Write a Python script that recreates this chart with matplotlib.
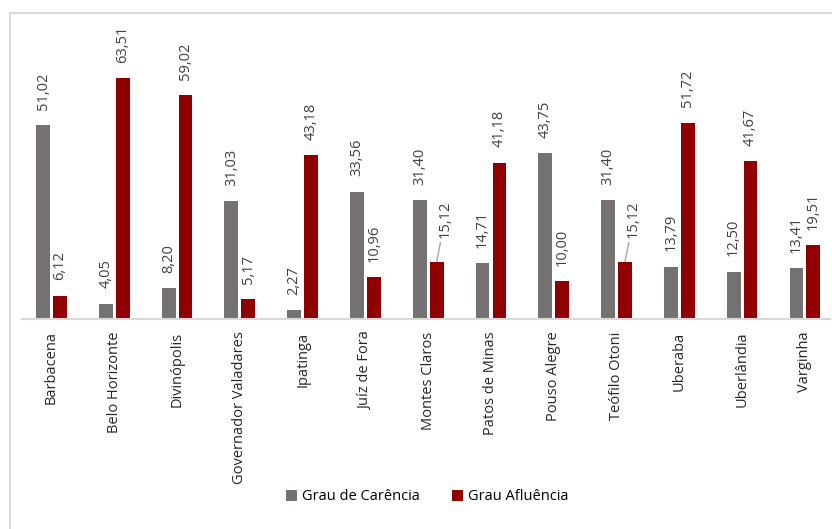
import matplotlib.pyplot as plt
import numpy as np
from matplotlib.patches import Rectangle

plt.rcParams['font.family'] = ['Open Sans', 'DejaVu Sans']

# Data
cities = ['Barbacena', 'Belo Horizonte', 'Divinópolis', 'Governador Valadares',
          'Ipatinga', 'Juíz de Fora', 'Montes Claros', 'Patos de Minas',
          'Pouso Alegre', 'Teófilo Otoni', 'Uberaba', 'Uberlândia', 'Varginha']
carencia = [51.02, 4.05, 8.20, 31.03, 2.27, 33.56, 31.40, 14.71, 43.75, 31.40, 13.79, 12.50, 13.41]
afluencia = [6.12, 63.51, 59.02, 5.17, 43.18, 10.96, 15.12, 41.18, 10.00, 15.12, 51.72, 41.67, 19.51]

grey = '#767171'
red = '#900000'

fig = plt.figure(figsize=(8.32, 5.29), dpi=100)
W, H = 832, 529

# light outer frame (cropped on right/bottom)
fig.patches.append(Rectangle((10 / W, -0.1), 1.2, (H - 13) / H + 0.1,
                             transform=fig.transFigure, fill=False,
                             edgecolor='#d9d9d9', linewidth=1.5))

ax = fig.add_axes([22 / W, (H - 319) / H, (830 - 22) / W, 265.7 / H])

x = np.arange(len(cities))
w = 0.22
off = 0.135
b1 = ax.bar(x - off, carencia, w, color=grey, label='Grau de Carência')
b2 = ax.bar(x + off, afluencia, w, color=red, label='Grau Afluência')

ax.set_xlim(-0.47, 12.4)
ax.set_ylim(0, 70)


def fmt(v):
    return f'{v:.2f}'.replace('.', ',')


for xi, v in zip(x - off, carencia):
    ax.annotate(fmt(v), (xi, v), xytext=(0, 11), textcoords='offset points',
                rotation=90, ha='center', va='bottom', fontsize=10.5,
                color='#404040', annotation_clip=False)

for i, (xi, v) in enumerate(zip(x + off, afluencia)):
    if cities[i] in ('Montes Claros', 'Teófilo Otoni'):
        ax.annotate(fmt(v), (xi, v), xytext=(6, 17), textcoords='offset points',
                    rotation=90, ha='center', va='bottom', fontsize=10.5,
                    color='#404040', annotation_clip=False,
                    arrowprops=dict(arrowstyle='-', color='#a6a6a6', lw=1,
                                    shrinkA=1, shrinkB=0))
    else:
        ax.annotate(fmt(v), (xi, v), xytext=(0, 11), textcoords='offset points',
                    rotation=90, ha='center', va='bottom', fontsize=10.5,
                    color='#404040', annotation_clip=False)

for s in ['top', 'right', 'left']:
    ax.spines[s].set_visible(False)
ax.spines['bottom'].set_color('#d9d9d9')
ax.spines['bottom'].set_linewidth(1.5)
ax.set_yticks([])
ax.set_xticks(x)
ax.set_xticklabels(cities, rotation=90, fontsize=10.5, color='#262626', va='top')
ax.tick_params(axis='x', length=0, pad=9)

fig.legend(handles=[b1, b2], loc='center', bbox_to_anchor=(427 / W, 1 - 497 / H),
           ncol=2, frameon=False, fontsize=10.5, handlelength=0.8, handleheight=0.8,
           handletextpad=0.3, columnspacing=2.2)

fig.savefig('out.png', dpi=100)
